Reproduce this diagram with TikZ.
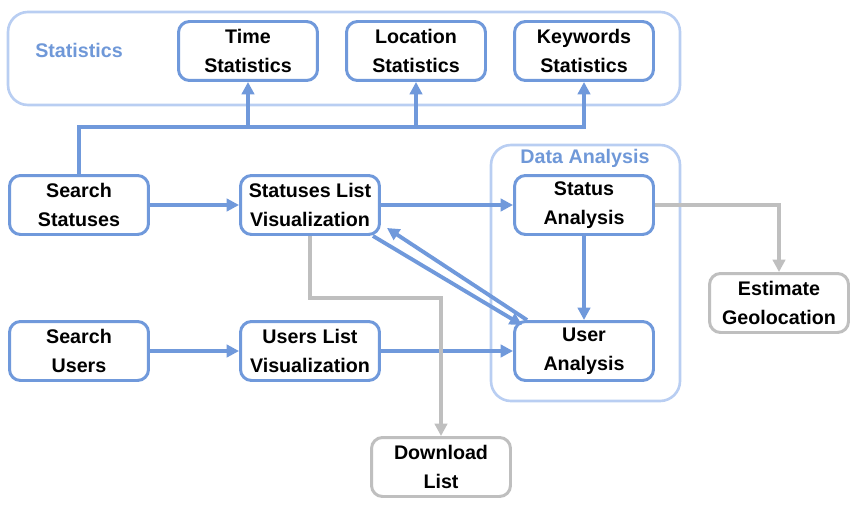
\documentclass[tikz,border=0pt]{standalone}
\usepackage{fontspec}
\setmainfont{Liberation Sans}
\usetikzlibrary{arrows.meta,calc}
\definecolor{boxblue}{HTML}{7099DB}
\definecolor{groupblue}{HTML}{B9CEF2}
\definecolor{labelblue}{HTML}{6F98D8}
\definecolor{boxgray}{HTML}{BFBFBF}
\begin{document}
\begin{tikzpicture}[
    x=0.02cm, y=-0.02cm,
    box/.style={draw=boxblue, line width=1.7pt, rounded corners=0.22cm, fill=white,
      minimum width=2.78cm, minimum height=1.18cm, align=center,
      font=\bfseries\fontsize{11.2}{16.5}\selectfont},
    graybox/.style={box, draw=boxgray},
    group/.style={draw=groupblue, line width=1.5pt, rounded corners=0.4cm},
    grouplabel/.style={text=labelblue, font=\bfseries\fontsize{11.2}{14}\selectfont},
    link/.style={draw=boxblue, line width=2.2pt, -{Triangle[length=7pt,width=7pt]}},
    graylink/.style={link, draw=boxgray}]

\useasboundingbox (0,0) rectangle (865,510);

% groups
\draw[group] (8,12) rectangle (680,105);
\draw[group] (491,145) rectangle (680,401);
\node[grouplabel] (statlabel) at (79,50) {Statistics};
\node[grouplabel] (analabel) at (585,158) {Data Analysis};

% boxes
\node[box] (ts) at (248,51) {Time\\Statistics};
\node[box] (ls) at (416,51) {Location\\Statistics};
\node[box] (ks) at (584,51) {Keywords\\Statistics};
\node[box] (ss) at (79,205) {Search\\Statuses};
\node[box] (sl) at (310,205) {Statuses List\\Visualization};
\node[box] (sa) at (584,205) {Status\\Analysis};
\node[box] (su) at (79,351) {Search\\Users};
\node[box] (ul) at (310,351) {Users List\\Visualization};
\node[box] (ua) at (584,351) {User\\Analysis};
\node[graybox] (eg) at (779,303) {Estimate\\Geolocation};
\node[graybox] (dl) at (441,467) {Download\\List};

% statistics fork
\coordinate (fork) at (79,127);
\draw[link] (ss.north) -- (fork) -| (ks.south);
\draw[link] (ts.south |- fork) -- (ts.south);
\draw[link] (ls.south |- fork) -- (ls.south);

% flows
\draw[link] (ss) -- (sl);
\draw[link] (sl) -- (sa);
\draw[link] (su) -- (ul);
\draw[link] (ul) -- (ua);
\draw[link] (sa) -- (ua);
\draw[link] ($(sl.south east)+(-8,0)$) -- ($(ua.north west)+(9,5)$);
\draw[link] ($(ua.north west)+(14,0)$) -- ($(sl.south east)+(6,-8)$);

% gray outputs
\draw[graylink] (sl.south) -- ++(0,62) -| (dl.north);
\draw[graylink] (sa.east) -| (eg.north);

\end{tikzpicture}
\end{document}
